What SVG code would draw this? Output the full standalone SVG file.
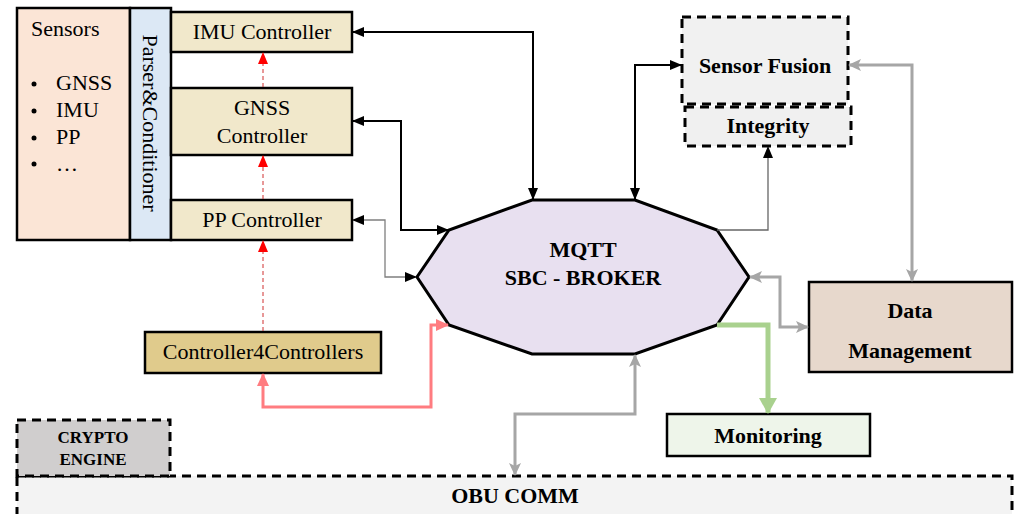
<svg xmlns="http://www.w3.org/2000/svg" width="1016" height="514" viewBox="0 0 1016 514">
<style>
.t{font-family:"Liberation Serif","Times New Roman",serif;font-size:22px;fill:#000}
.b{font-weight:bold}
.m{text-anchor:middle}
.box{stroke:#000;stroke-width:2.5}
.dash{stroke:#000;stroke-width:3;stroke-dasharray:9 6}
.c{fill:none}
</style>
<defs>
<marker id="ak" markerUnits="userSpaceOnUse" markerWidth="12" markerHeight="10" refX="11" refY="5" orient="auto-start-reverse"><path d="M0,0 L12,5 L0,10 z" fill="#000"/></marker>
<marker id="ag" markerUnits="userSpaceOnUse" markerWidth="13" markerHeight="12" refX="12" refY="6" orient="auto-start-reverse"><path d="M0,0 L13,6 L0,12 L3,6 z" fill="#a6a6a6"/></marker>
<marker id="ap" markerUnits="userSpaceOnUse" markerWidth="13" markerHeight="12" refX="12" refY="6" orient="auto-start-reverse"><path d="M0,0 L13,6 L0,12 z" fill="#ff7c80"/></marker>
<marker id="agr" markerUnits="userSpaceOnUse" markerWidth="16" markerHeight="18" refX="15" refY="9" orient="auto"><path d="M0,0 L16,9 L0,18 z" fill="#a9d18e"/></marker>
<marker id="ar" markerUnits="userSpaceOnUse" markerWidth="12" markerHeight="10" refX="11" refY="5" orient="auto"><path d="M0,0 L12,5 L0,10 z" fill="#ff0000"/></marker>
</defs>

<g id="obu-comm">
<rect x="17" y="476" width="995" height="60" fill="#f3f3f3" class="dash"/>
<text x="515" y="503" class="t b m">OBU COMM</text>
</g>
<g id="crypto-engine">
<rect x="17" y="420" width="153" height="56" fill="#d0cece" class="dash"/>
<text x="93" y="443" class="t b m" style="font-size:17px">CRYPTO</text>
<text x="93" y="465" class="t b m" style="font-size:17px">ENGINE</text>
</g>

<g id="sensors">
<rect x="17" y="8" width="113" height="232" fill="#fbe5d6" class="box"/>
<text x="31" y="36" class="t">Sensors</text>
<g class="t">
<circle cx="34" cy="84" r="2.5"/><text x="56" y="90" class="t">GNSS</text>
<circle cx="34" cy="111" r="2.5"/><text x="56" y="117" class="t">IMU</text>
<circle cx="34" cy="138" r="2.5"/><text x="56" y="144" class="t">PP</text>
<circle cx="34" cy="164" r="2.5"/><text x="56" y="171" class="t">…</text>
</g>
</g>
<g id="parser">
<rect x="130" y="8" width="41" height="232" fill="#dce8f5" class="box"/>
<text transform="translate(143,123) rotate(90)" class="t m">Parser&amp;Conditioner</text>
</g>
<g id="imu-controller">
<rect x="171" y="12" width="181" height="40" fill="#f1e8cb" class="box"/>
<text x="262" y="39" class="t m">IMU Controller</text>
</g>
<g id="gnss-controller">
<rect x="171" y="88" width="181" height="67" fill="#f1e8cb" class="box"/>
<text x="262" y="115" class="t m">GNSS</text>
<text x="262" y="143" class="t m">Controller</text>
</g>
<g id="pp-controller">
<rect x="171" y="200" width="181" height="40" fill="#f1e8cb" class="box"/>
<text x="262" y="227" class="t m">PP Controller</text>
</g>
<g id="c4c">
<rect x="145" y="332" width="236" height="41" fill="#e0cb8c" class="box"/>
<text x="263" y="359" class="t m">Controller4Controllers</text>
</g>

<g id="broker">
<polygon points="532,200 635,200 717,230 749,277 717,325 635,354 532,354 449,325 417,277 449,230" fill="#e8e0f0" stroke="#000" stroke-width="3" stroke-linejoin="miter"/>
<text x="583" y="257" class="t b m">MQTT</text>
<text x="583" y="285" class="t b m">SBC - BROKER</text>
</g>

<g id="sensor-fusion">
<rect x="682" y="17" width="166" height="87" fill="#f1f1f1" class="dash"/>
<text x="765" y="73" class="t b m">Sensor Fusion</text>
</g>
<g id="integrity">
<rect x="685" y="107" width="166" height="39" fill="#f0f0f0" class="dash"/>
<text x="768" y="133" class="t b m">Integrity</text>
</g>
<g id="data-management">
<rect x="809" y="282" width="203" height="90" fill="#e7d8cc" class="box"/>
<text x="910" y="318" class="t b m">Data</text>
<text x="910" y="358" class="t b m">Management</text>
</g>
<g id="monitoring">
<rect x="667" y="414" width="203" height="42" fill="#eef5ea" class="box"/>
<text x="768" y="443" class="t b m">Monitoring</text>
</g>

<g id="connectors" class="c">
<path d="M263,331 V241" stroke="#d03030" stroke-width="1" stroke-dasharray="4 3" marker-end="url(#ar)"/>
<path d="M263,199 V156" stroke="#d03030" stroke-width="1" stroke-dasharray="4 3" marker-end="url(#ar)"/>
<path d="M263,87 V53" stroke="#d03030" stroke-width="1" stroke-dasharray="4 3" marker-end="url(#ar)"/>
<path d="M353,32 H533 V199" stroke="#000" stroke-width="2" marker-start="url(#ak)" marker-end="url(#ak)"/>
<path d="M353,121 H401 V230 H448" stroke="#000" stroke-width="2" marker-start="url(#ak)" marker-end="url(#ak)"/>
<path d="M353,220 H385 V277 H416" stroke="#7f7f7f" stroke-width="1.3" marker-start="url(#ak)" marker-end="url(#ak)"/>
<path d="M263,374 V407 H431 V325 H448" stroke="#ff7c80" stroke-width="3" marker-start="url(#ap)" marker-end="url(#ap)"/>
<path d="M635,199 V65 H681" stroke="#000" stroke-width="2" marker-start="url(#ak)" marker-end="url(#ak)"/>
<path d="M717,230 H768 V147" stroke="#666" stroke-width="1.3" marker-end="url(#ak)"/>
<path d="M849,65 H912 V281" stroke="#a6a6a6" stroke-width="3" marker-start="url(#ag)" marker-end="url(#ag)"/>
<path d="M750,277 H780 V327 H808" stroke="#a6a6a6" stroke-width="3" marker-start="url(#ag)" marker-end="url(#ag)"/>
<path d="M717,325 H768 V413" stroke="#a9d18e" stroke-width="5" marker-end="url(#agr)"/>
<path d="M635,355 V414 H515 V475" stroke="#a6a6a6" stroke-width="3" marker-start="url(#ag)" marker-end="url(#ag)"/>
</g>
</svg>
